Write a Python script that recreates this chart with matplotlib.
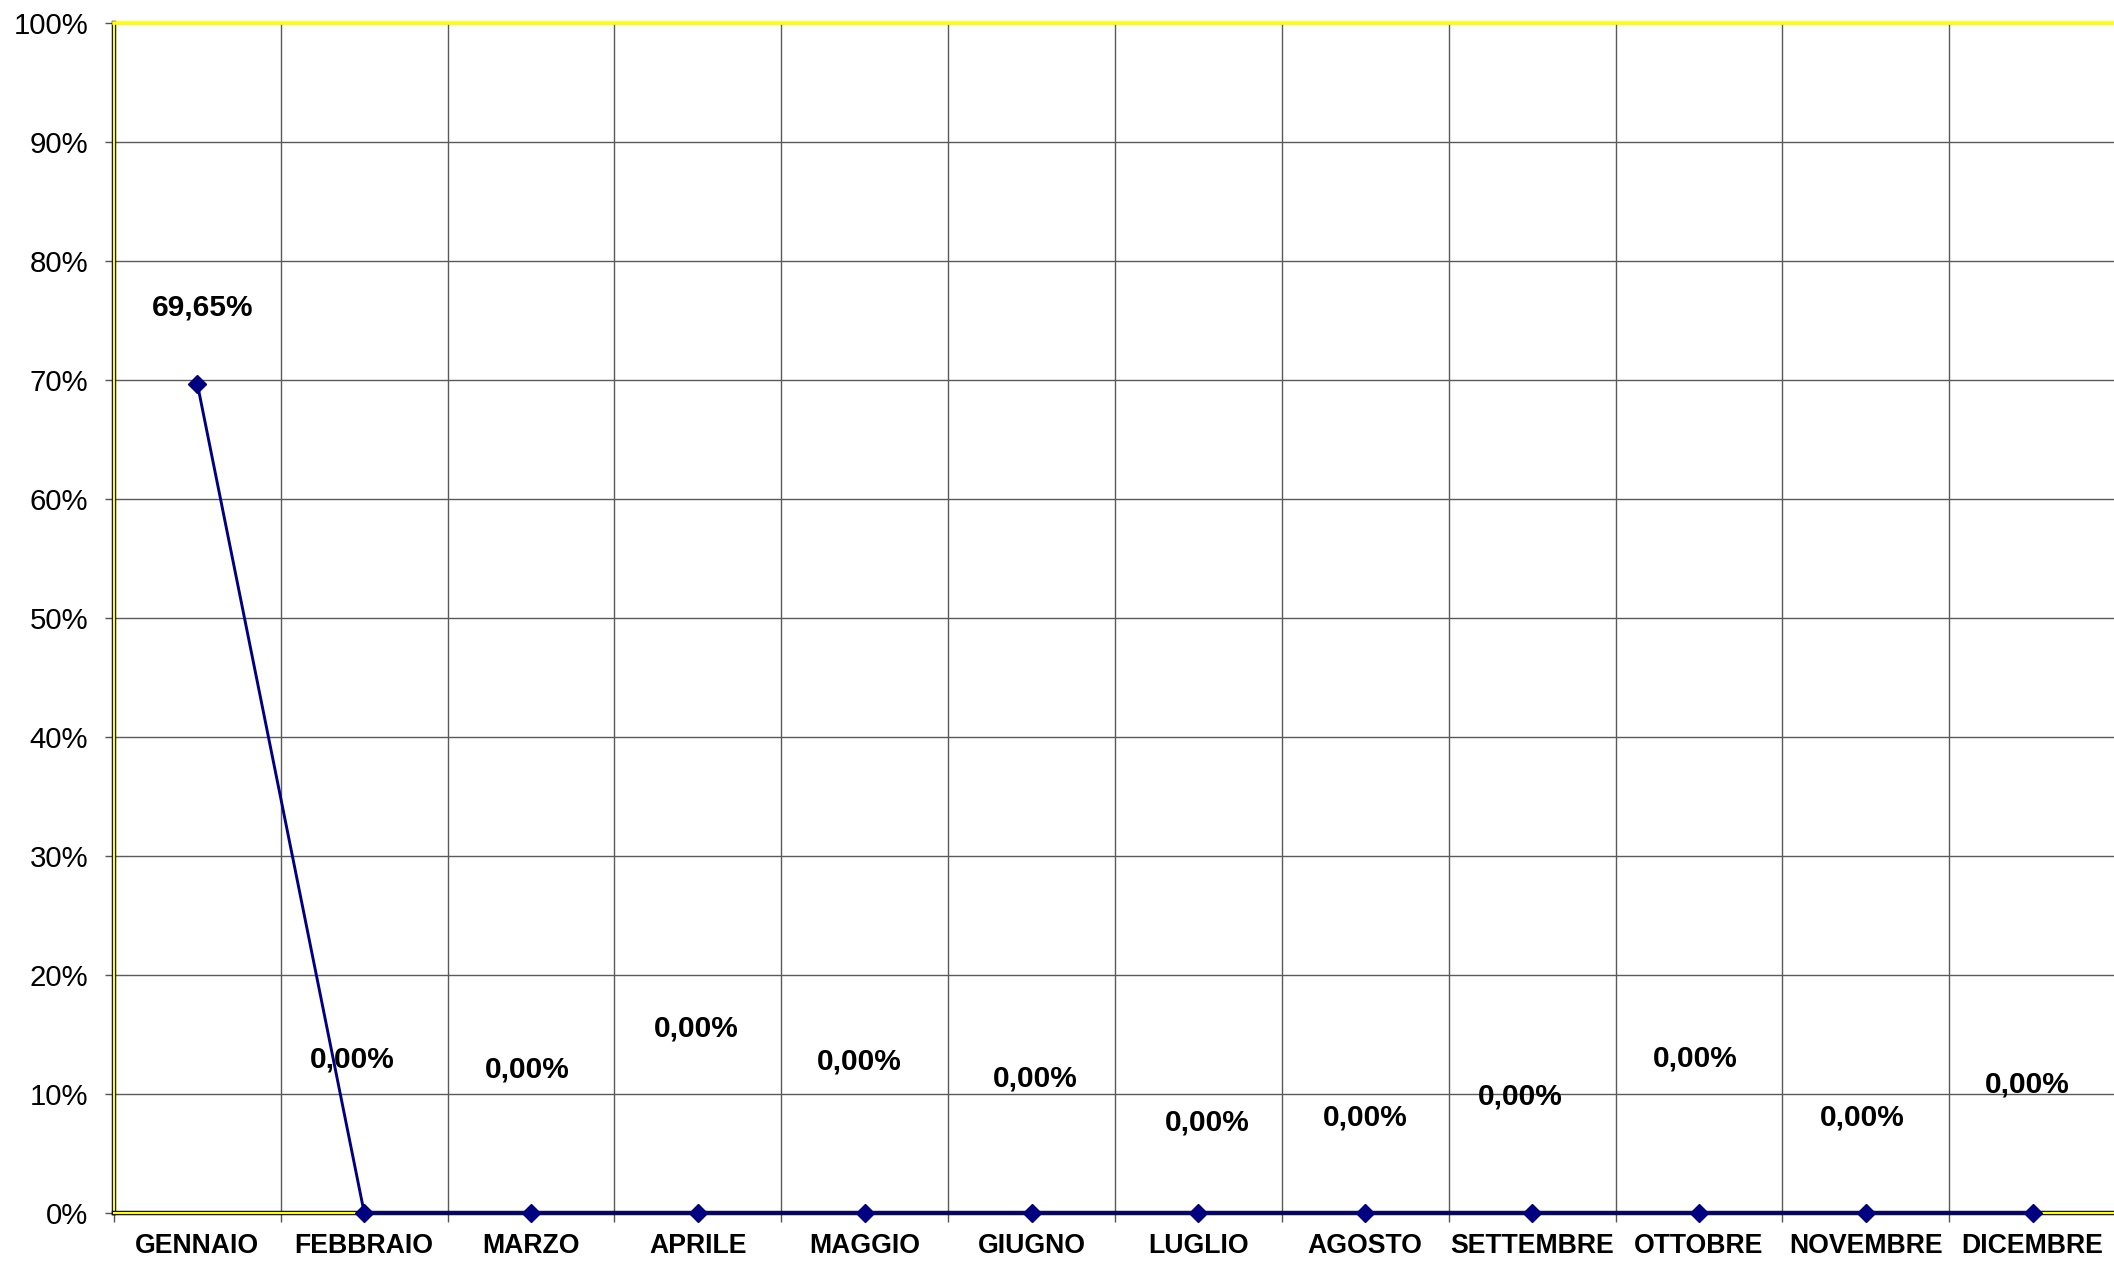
import matplotlib
matplotlib.use("Agg")
import matplotlib.pyplot as plt
import matplotlib.patheffects as pe
from matplotlib.ticker import FixedLocator, PercentFormatter

plt.rcParams['font.family'] = ['Liberation Sans', 'DejaVu Sans']

months = ["GENNAIO", "FEBBRAIO", "MARZO", "APRILE", "MAGGIO", "GIUGNO",
          "LUGLIO", "AGOSTO", "SETTEMBRE", "OTTOBRE", "NOVEMBRE", "DICEMBRE"]
values = [69.65, 0, 0, 0, 0, 0, 0, 0, 0, 0, 0, 0]
value_labels = ["69,65%", "0,00%", "0,00%", "0,00%", "0,00%", "0,00%",
                "0,00%", "0,00%", "0,00%", "0,00%", "0,00%", "0,00%"]
# label placement (x offset in categories, y position in %)
label_dx = [0.03, -0.07, -0.02, -0.01, -0.03, 0.02, 0.05, 0.0, -0.07, -0.02, -0.02, -0.03]
label_y = [76.1, 12.9, 12.1, 15.5, 12.7, 11.3, 7.6, 8.0, 9.8, 13.0, 8.0, 10.8]
y_ticks = [0, 10, 20, 30, 40, 50, 60, 70, 80, 90, 100]

fig = plt.figure(figsize=(21.14, 12.62), dpi=100)
ax = fig.add_axes([114/2114, 1 - 1213/1262, (2116 - 114)/2114, (1213 - 23)/1262])

x = list(range(len(months)))
ax.set_xlim(-0.5, len(months) - 0.5)
ax.set_ylim(0, 100)

# grid
ax.xaxis.set_major_locator(FixedLocator([i + 0.5 for i in range(-1, len(months))]))
ax.xaxis.set_minor_locator(FixedLocator(x))
ax.set_xticklabels([], minor=False)
ax.set_xticklabels(months, minor=True, fontsize=19.2, fontweight='bold')
ax.tick_params(axis='x', which='minor', length=0, pad=14.5)
ax.tick_params(axis='x', which='major', length=6.5, width=1, color='#555555')
ax.set_yticks(y_ticks)
ax.yaxis.set_major_formatter(PercentFormatter(decimals=0))
ax.tick_params(axis='y', labelsize=21.2, length=6.5, width=1, color='#555555', pad=12)
ax.grid(True, which='major', color='#5a5a5a', linewidth=1.0)
ax.set_axisbelow(True)

for s in ['left', 'bottom']:
    ax.spines[s].set_color('#ffff00')
    ax.spines[s].set_linewidth(1.6)
    ax.spines[s].set_path_effects([pe.withStroke(linewidth=3.2, foreground='black')])
    ax.spines[s].set_zorder(2.5)
ax.spines['top'].set_color('#ffff00')
ax.spines['top'].set_linewidth(2.6)
ax.spines['right'].set_visible(False)

ax.plot(x, values, color='#000080', linewidth=2.1, marker='D', markersize=9.5,
        markerfacecolor='#000080', markeredgecolor='#000080', clip_on=False, zorder=4)

for i, lab in enumerate(value_labels):
    ax.text(x[i] + label_dx[i], label_y[i], lab, ha='center', va='center',
            fontsize=21.5, fontweight='bold', color='black', zorder=5)

fig.savefig("out.png", dpi=100)
